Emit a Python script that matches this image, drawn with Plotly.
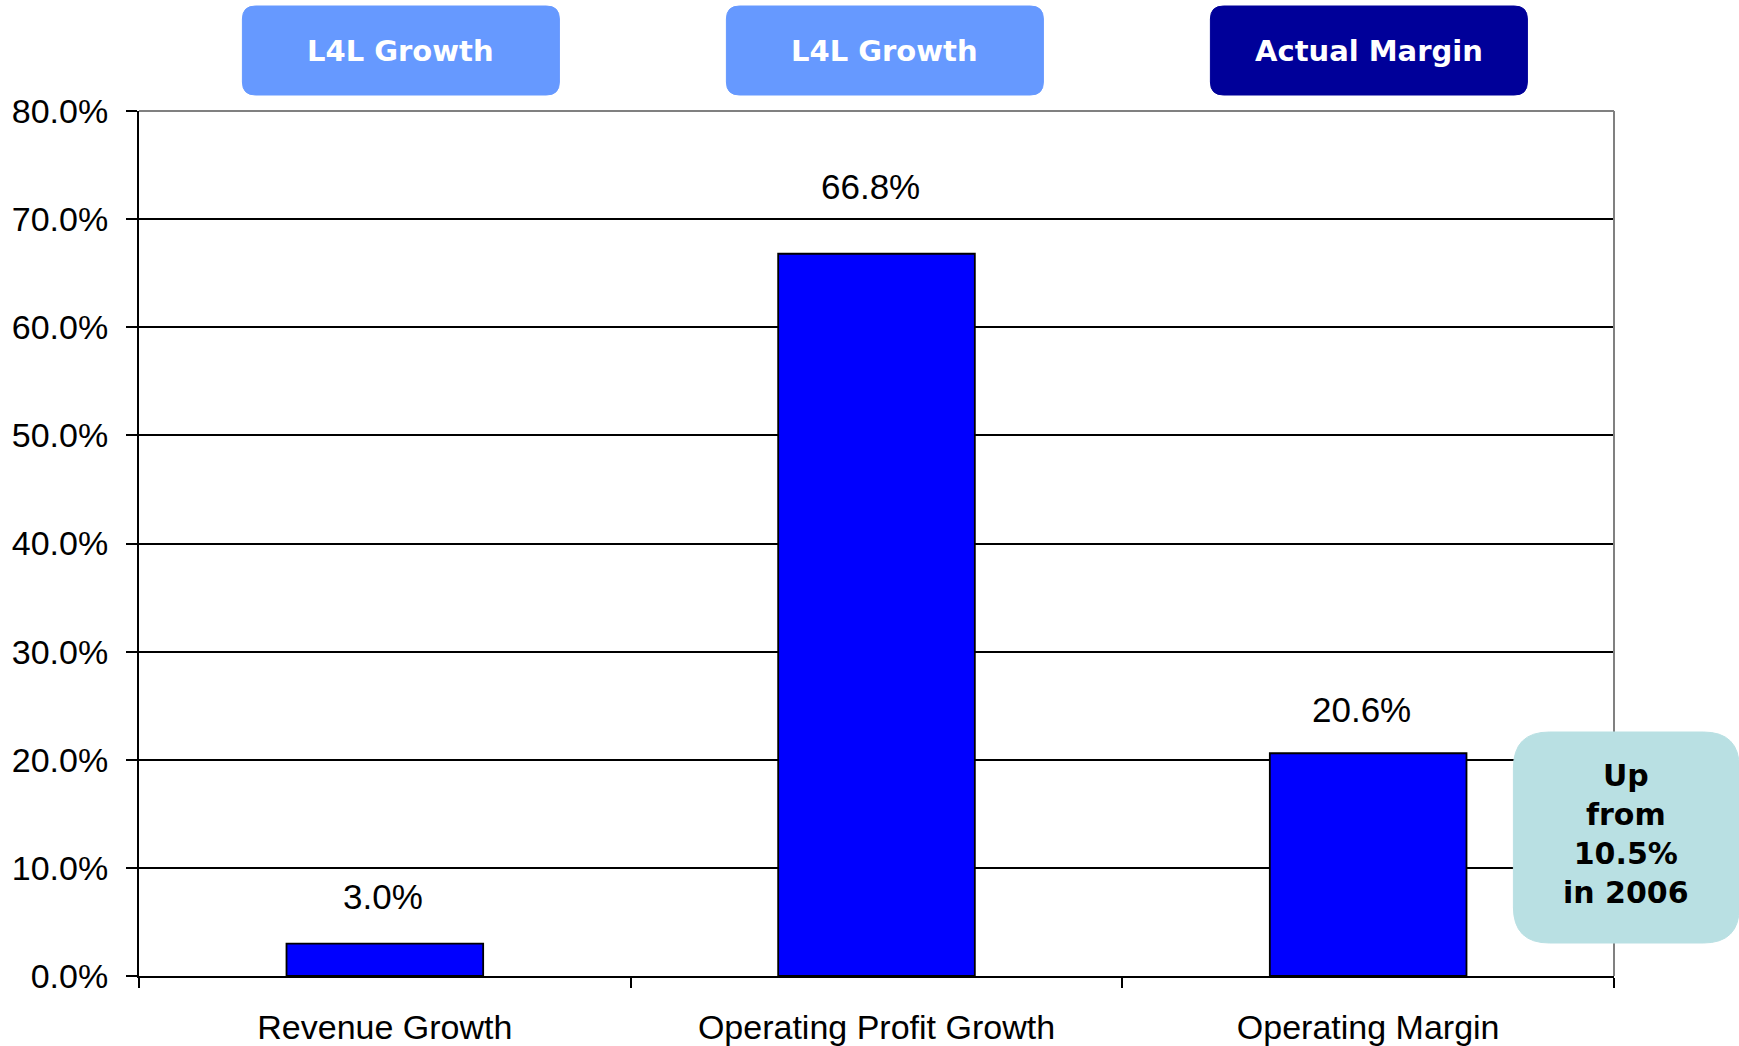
import plotly.graph_objects as go

# Chart data
categories = ["Revenue Growth", "Operating Profit Growth", "Operating Margin"]
values = [3.0, 66.8, 20.6]
y_ticks = [0, 10, 20, 30, 40, 50, 60, 70, 80]
header_labels = ["L4L Growth", "L4L Growth", "Actual Margin"]
callout_lines = ["Up", "from", "10.5%", "in 2006"]

# Canvas / plot-area geometry (pixels)
W, H = 1739, 1046
L, R, T, B = 138.6, 125.4, 111, 70
PW, PH = W - L - R, H - T - B

BAR_BLUE = "#0000FF"
HEADER_COLORS = ["#6699FF", "#6699FF", "#000099"]
CALLOUT_COLOR = "#B9E0E3"
TEXT_FONT = "Liberation Sans, Arial, sans-serif"
BOLD_FONT = "DejaVu Sans, Verdana, sans-serif"


def px_x(x):
    return (x - L) / PW


def px_y(y):
    return 1 - (y - T) / PH


def rounded_path(x0, y0, x1, y1, r):
    """Rounded rectangle path in paper coordinates from pixel corners."""
    ax0, ax1 = px_x(x0), px_x(x1)
    ay0, ay1 = px_y(y0), px_y(y1)  # ay0 is top (larger)
    rx, ry = r / PW, r / PH
    return (
        f"M {ax0 + rx},{ay0} L {ax1 - rx},{ay0} Q {ax1},{ay0} {ax1},{ay0 - ry} "
        f"L {ax1},{ay1 + ry} Q {ax1},{ay1} {ax1 - rx},{ay1} "
        f"L {ax0 + rx},{ay1} Q {ax0},{ay1} {ax0},{ay1 + ry} "
        f"L {ax0},{ay0 - ry} Q {ax0},{ay0} {ax0 + rx},{ay0} Z"
    )


fig = go.Figure(
    go.Bar(
        x=categories,
        y=values,
        marker=dict(color=BAR_BLUE, line=dict(color="#000000", width=1.8)),
        width=0.4,
        hoverinfo="skip",
    )
)

# Value labels above each bar
label_yshift = [26, 46, 22]
label_xshift = [-2, -6, -7]
annotations = []
for cat, v, ys, xs in zip(categories, values, label_yshift, label_xshift):
    annotations.append(
        dict(
            x=cat, y=v, xref="x", yref="y", text=f"{v:.1f}%", showarrow=False,
            yanchor="bottom", yshift=ys, xshift=xs,
            font=dict(family=TEXT_FONT, size=35, color="#000000"),
        )
    )

shapes = []
# Plot frame: grey top and right edges
shapes.append(dict(type="line", xref="paper", yref="paper", x0=0, x1=1, y0=1, y1=1,
                   line=dict(color="#808080", width=2), layer="above"))
shapes.append(dict(type="line", xref="paper", yref="paper", x0=1, x1=1, y0=0, y1=1,
                   line=dict(color="#808080", width=2), layer="above"))

# Header boxes above the plot
header_boxes = [(242, 559), (726, 1043), (1210, 1527)]
for (x0, x1), label, col in zip(header_boxes, header_labels, HEADER_COLORS):
    shapes.append(dict(type="path", xref="paper", yref="paper",
                       path=rounded_path(x0, 6, x1, 95, 13),
                       fillcolor=col, line=dict(color=col, width=1), layer="above"))
    annotations.append(dict(
        x=px_x((x0 + x1) / 2), y=px_y(51), xref="paper", yref="paper",
        text=f"<b>{label}</b>", showarrow=False, xanchor="center", yanchor="middle",
        font=dict(family=BOLD_FONT, size=29, color="#FFFFFF"),
    ))

# Callout box on the right
shapes.append(dict(type="path", xref="paper", yref="paper",
                   path=rounded_path(1513, 732, 1739, 943, 36),
                   fillcolor=CALLOUT_COLOR, line=dict(color=CALLOUT_COLOR, width=1),
                   layer="above"))
annotations.append(dict(
    x=px_x(1626), y=px_y(834), xref="paper", yref="paper",
    text="<b>" + "<br>".join(callout_lines) + "</b>", showarrow=False,
    xanchor="center", yanchor="middle", align="center",
    font=dict(family=BOLD_FONT, size=30, color="#000000"),
))

fig.update_layout(
    width=W, height=H,
    margin=dict(l=L, r=R, t=T, b=B, pad=0, autoexpand=False),
    paper_bgcolor="#FFFFFF", plot_bgcolor="#FFFFFF",
    showlegend=False,
    bargap=0.6,
    shapes=shapes,
    annotations=annotations,
    xaxis=dict(
        type="category", automargin=False,
        showline=True, linecolor="#000000", linewidth=2,
        ticks="outside", tickson="boundaries", ticklen=10, tickwidth=2, tickcolor="#000000",
        showgrid=False, zeroline=False,
        tickfont=dict(family=TEXT_FONT, size=34, color="#000000"),
        ticklabelstandoff=20,
    ),
    yaxis=dict(
        range=[0, 80], tickvals=y_ticks, automargin=False,
        ticktext=[f"{t:.1f}%" for t in y_ticks],
        showline=True, linecolor="#000000", linewidth=2,
        ticks="outside", ticklen=11, tickwidth=2, tickcolor="#000000",
        showgrid=True, gridcolor="#000000", gridwidth=1.6,
        zeroline=False,
        tickfont=dict(family=TEXT_FONT, size=34, color="#000000"),
        ticklabelstandoff=11,
    ),
)

fig.write_html("out.html")
